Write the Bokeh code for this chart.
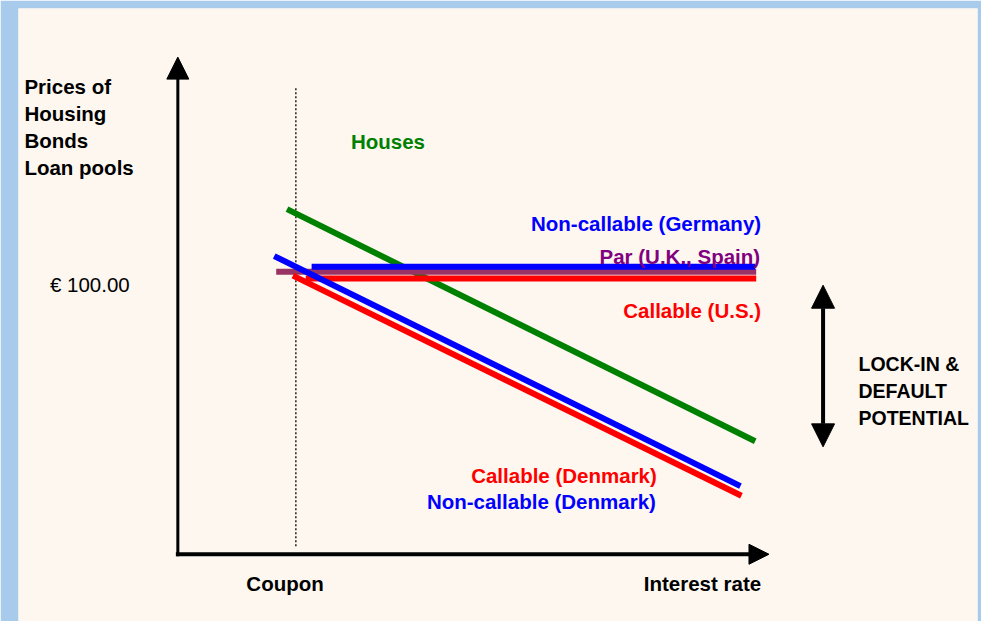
from bokeh.plotting import figure
from bokeh.models import Range1d, Arrow, NormalHead
from bokeh.core.properties import value
from bokeh.embed import file_html
from bokeh.resources import INLINE

# ---- data (interest-rate units on x, price units on y; price 100 = par) ----
coupon = 3.0
par_price = 100.0

houses_x = [2.775, 14.675]
houses_y = [122.1, 40.0]

noncall_dk_x = [2.45, 14.3]
noncall_dk_y = [105.5, 24.1]

call_dk_x = [2.925, 14.325]
call_dk_y = [98.6, 20.7]

noncall_de_x = [3.4, 14.675]
noncall_de_y = [101.7, 101.7]

par_x = [2.5, 14.7]
par_y = [100.0, 100.0]

call_us_x = [3.25, 14.7]
call_us_y = [97.6, 97.6]

ylabel_lines = ["Prices of", "Housing", "Bonds", "Loan pools"]
lock_lines = ["LOCK-IN &", "DEFAULT", "POTENTIAL"]

BLUE_BG = "#a9cbeb"
CREAM = "#fdf7f0"
FONT = value("Liberation Sans")
FS = "20.5px"

p = figure(width=981, height=621,
           x_range=Range1d(-4.05, 20.325), y_range=Range1d(-23.79, 193.103),
           output_backend="svg", toolbar_location=None,
           x_axis_location=None, y_axis_location=None,
           min_border_left=18, min_border_right=4, min_border_top=8, min_border_bottom=0,
           border_fill_color=BLUE_BG, background_fill_color=CREAM,
           outline_line_color=None)
p.grid.visible = False

# coupon dotted line
p.line([coupon, coupon], [2.8, 165.5], line_color="black", line_width=1.3, line_dash="2 2")

# series lines
p.line(houses_x, houses_y, line_color="#008000", line_width=6)
p.line(par_x, par_y, line_color="#993366", line_width=6)
p.line(noncall_de_x, noncall_de_y, line_color="#0000ff", line_width=6)
p.line(call_us_x, call_us_y, line_color="#ff0000", line_width=6)
p.line(noncall_dk_x, noncall_dk_y, line_color="#0000ff", line_width=6)
p.line(call_dk_x, call_dk_y, line_color="#ff0000", line_width=6)

# axes with arrows
p.add_layout(Arrow(x_start=0, y_start=-0.7, x_end=0, y_end=175.9, line_width=3,
                   end=NormalHead(size=22, fill_color="black", line_color="black")))
p.add_layout(Arrow(x_start=-0.05, y_start=0, x_end=15.025, y_end=0, line_width=4,
                   end=NormalHead(size=20, fill_color="black", line_color="black")))
# lock-in double arrow
p.add_layout(Arrow(x_start=16.4, y_start=38.0, x_end=16.4, y_end=95.2, line_width=4,
                   start=NormalHead(size=23, fill_color="black", line_color="black"),
                   end=NormalHead(size=23, fill_color="black", line_color="black")))

def label(x, y, txt, color="black", align="left", style="bold", size=FS):
    p.text([x], [y], text=[txt], text_color=color, text_align=align,
           text_baseline="middle", text_font=FONT, text_font_size=size,
           text_font_style=style)

for i, t in enumerate(ylabel_lines):
    label(-3.9, 165.5 - i * 9.55, t)

label(4.4, 146.2, "Houses", "#008000")
label(14.825, 117.2, "Non-callable (Germany)", "#0000ff", "right")
label(14.8, 105.5, "Par (U.K., Spain)", "#800080", "right")
label(14.825, 86.2, "Callable (U.S.)", "#ff0000", "right")
label(12.175, 27.9, "Callable (Denmark)", "#ff0000", "right")
label(12.15, 18.6, "Non-callable (Denmark)", "#0000ff", "right")
label(2.725, -10.3, "Coupon", "black", "center")
label(14.825, -10.3, "Interest rate", "black", "right")
label(-3.25, 95.5, "€ 100.00", "black", "left", "normal")
for i, t in enumerate(lock_lines):
    label(17.3, 67.2 - i * 9.5, t, size="19.5px")

open("out.html", "w").write(file_html(p, INLINE))
